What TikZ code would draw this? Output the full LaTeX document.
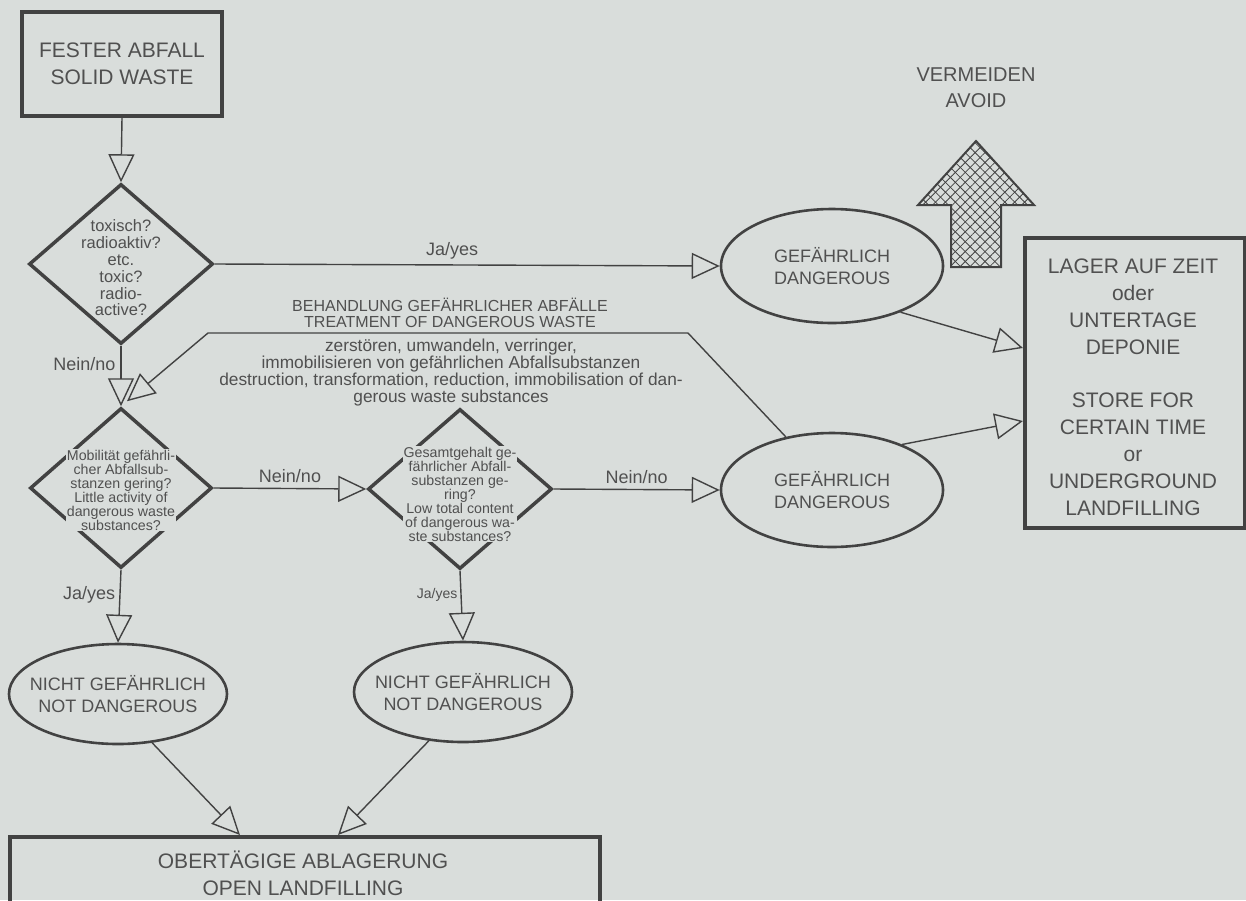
\documentclass[tikz,border=0pt]{standalone}
\usepackage{fontspec}
\setmainfont{Liberation Sans}
\usetikzlibrary{arrows.meta,shapes.geometric,patterns.meta}
\definecolor{bg}{RGB}{217,221,219}
\definecolor{ink}{RGB}{66,66,66}
\definecolor{txt}{RGB}{80,80,80}
\tikzset{
  boxst/.style={draw=ink,line width=3.5pt,rectangle,inner sep=0pt},
  diast/.style={draw=ink,line width=3.5pt,diamond,inner sep=0pt},
  ellst/.style={draw=ink,line width=2.6pt,ellipse,inner sep=0pt},
  lbl/.style={text=txt,align=center,inner sep=1pt},
  gaplbl/.style={text=txt,align=center,inner sep=1pt,fill=bg},
  conn/.style={draw=ink,line width=1.4pt,-{Triangle[open,length=28pt,width=26pt,line width=1.4pt]}},
  big/.style={font=\fontsize{21}{27}\selectfont},
  mid/.style={font=\fontsize{18}{22}\selectfont},
  small/.style={font=\fontsize{14}{16.5}\selectfont},
  dtext/.style={font=\fontsize{16.5}{16.8}\selectfont},
  tiny/.style={font=\fontsize{14.2}{14}\selectfont},
}
\begin{document}
\begin{tikzpicture}[x=1pt,y=-1pt]
\fill[bg] (0,0) rectangle (1246,900);
\useasboundingbox (0,0) rectangle (1246,900);

% boxes
\node[boxst,minimum width=200pt,minimum height=104pt] (fest) at (122,64) {};
\node[lbl,big] at (fest) {FESTER ABFALL\\SOLID WASTE};

\node[boxst,minimum width=220pt,minimum height=290pt,anchor=north west] (lager) at (1023,236) {};
\node[lbl,big,anchor=north] at (1133,258) {LAGER AUF ZEIT\\oder\\UNTERTAGE\\DEPONIE\\[26pt]STORE FOR\\CERTAIN TIME\\or\\UNDERGROUND\\LANDFILLING};

\node[boxst,minimum width=590pt,minimum height=120pt,anchor=north west] (open) at (8,835) {};
\node[lbl,big] at (303,873) {OBERTÄGIGE ABLAGERUNG\\OPEN LANDFILLING};

% diamonds
\node[diast,minimum width=184pt,minimum height=160pt] (d1) at (121,264) {};
\node[lbl,dtext] at (121,268) {toxisch?\\radioaktiv?\\etc.\\toxic?\\radio-\\active?};

\node[diast,minimum width=182pt,minimum height=160pt] (d2) at (121,488) {};
\node[gaplbl,tiny] at (121,490) {Mobilität gefährli-\\cher Abfallsub-\\stanzen gering?\\Little activity of\\dangerous waste\\substances?};

\node[diast,minimum width=184pt,minimum height=160pt] (d3) at (460,489) {};
\node[gaplbl,tiny] at (460,494) {Gesamtgehalt ge-\\fährlicher Abfall-\\substanzen ge-\\ring?\\Low total content\\of dangerous wa-\\ste substances?};

% ellipses
\node[ellst,minimum width=222pt,minimum height=114pt] (e1) at (832,266) {};
\node[lbl,mid] at (e1) {GEFÄHRLICH\\DANGEROUS};
\node[ellst,minimum width=222pt,minimum height=114pt] (e2) at (832,490) {};
\node[lbl,mid] at (e2) {GEFÄHRLICH\\DANGEROUS};
\node[ellst,minimum width=218pt,minimum height=100pt] (n1) at (118,694) {};
\node[lbl,mid] at (n1) {NICHT GEFÄHRLICH\\NOT DANGEROUS};
\node[ellst,minimum width=218pt,minimum height=100pt] (n2) at (463,692) {};
\node[lbl,mid] at (n2) {NICHT GEFÄHRLICH\\NOT DANGEROUS};

% avoid arrow
\node[lbl,font=\fontsize{20}{26}\selectfont] (avoid) at (976,88) {VERMEIDEN\\AVOID};
\path[pattern={Lines[angle=45,distance=7pt,line width=0.8pt]},pattern color=ink]
  (976,141) -- (1034,205) -- (1001,205) -- (1001,267) -- (951,267) -- (951,205) -- (918,205) -- cycle;
\path[pattern={Lines[angle=-45,distance=7pt,line width=0.8pt]},pattern color=ink]
  (976,141) -- (1034,205) -- (1001,205) -- (1001,267) -- (951,267) -- (951,205) -- (918,205) -- cycle;
\draw[ink,line width=2pt,line join=miter]
  (976,141) -- (1034,205) -- (1001,205) -- (1001,267) -- (951,267) -- (951,205) -- (918,205) -- cycle;

% connectors
\draw[conn] (fest.south) -- (d1.north);
\draw[conn] (d1.east) -- node[lbl,mid,above=4pt,pos=0.47] {Ja/yes} (e1.west);
\draw[conn] (d1.south) -- node[lbl,mid,left=4pt,pos=0.3] {Nein/no} (d2.north);
\draw[conn] (d2.east) -- node[lbl,mid,above=4pt] {Nein/no} (d3.west);
\draw[conn] (d3.east) -- node[lbl,mid,above=4pt] {Nein/no} (e2.west);
\draw[conn] (d2.south) -- node[lbl,mid,left=3pt,pos=0.35] {Ja/yes} (n1.north);
\draw[conn] (d3.south) -- node[lbl,small,left=2pt,pos=0.35] {Ja/yes} (n2.north);
\coordinate (tc1) at (688,333);
\coordinate (tc2) at (208,333);
\draw[conn] (e2.131) -- (tc1) -- (tc2) -- ([shift={(6pt,5pt)}]d2.north);
\node[lbl,font=\fontsize{16}{16.5}\selectfont] at (450,313) {BEHANDLUNG GEFÄHRLICHER ABFÄLLE\\TREATMENT OF DANGEROUS WASTE};
\node[lbl,font=\fontsize{17.3}{17}\selectfont] at (451,373) {zerstören, umwandeln, verringer,\\immobilisieren von gefährlichen Abfallsubstanzen\\destruction, transformation, reduction, immobilisation of dan-\\gerous waste substances};
\draw[conn] (e1.-34) -- (lager.west |- 0,348);
\draw[conn] (e2.33) -- (lager.west |- 0,421);
\draw[conn] (n1.-55) -- (open.north -| 240,0);
\draw[conn] (n2.-125) -- (open.north -| 338,0);
\end{tikzpicture}
\end{document}
